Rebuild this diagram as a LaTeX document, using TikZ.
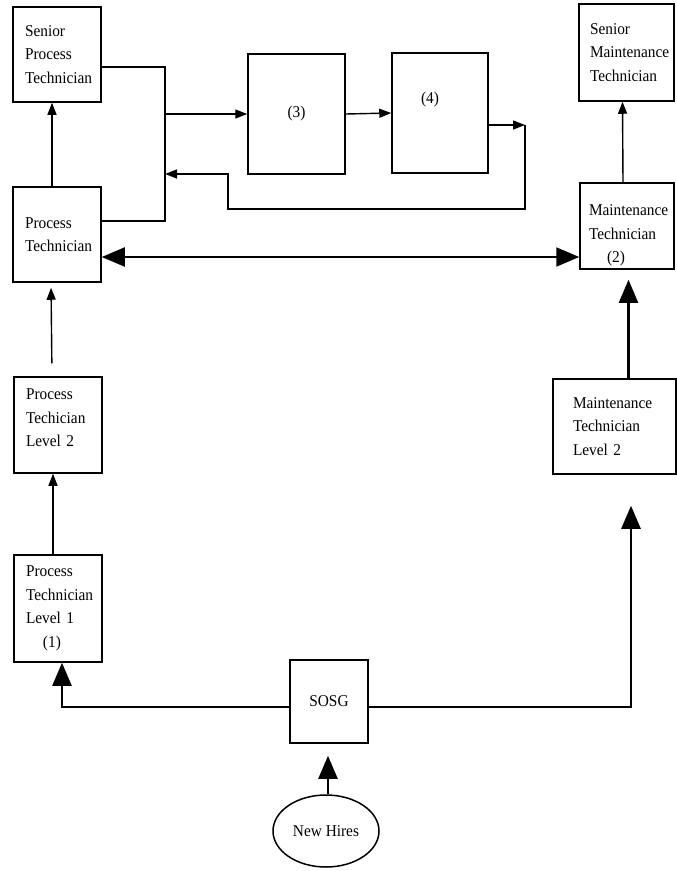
\documentclass[tikz,border=0pt]{standalone}
\usepackage{fontspec}
\setmainfont{Liberation Serif}[FakeStretch=0.93]
\usetikzlibrary{arrows.meta,shapes.geometric,calc}
\begin{document}
\begin{tikzpicture}[x=1pt,y=-1pt,
  box/.style={draw,line width=1.5pt,inner sep=0pt,align=left,font=\fontsize{16.5}{23.5}\selectfont},
  thinarr/.style={line width=1.4pt,-{Triangle[length=12pt,width=9pt]}},
  bigarr/.style={line width=2.2pt,-{Triangle[length=23pt,width=19pt]}},
  bigboth/.style={line width=2pt,{Triangle[length=23pt,width=19pt]}-{Triangle[length=23pt,width=19pt]}},
  wire/.style={line width=1.4pt}]
\useasboundingbox (0,0) rectangle (677,871);
% boxes
\node[box,minimum width=88pt,minimum height=95pt,text width=64pt] (SPT) at (57,54.5) {Senior\\Process\\Technician};
\node[box,minimum width=88pt,minimum height=95pt,text width=64pt] (PT) at (57,234.5) {Process\\Technician};
\node[box,minimum width=88pt,minimum height=96pt,text width=64pt] (PTL2) at (58,425) {Process\\Techician\\Level 2\rule[-14pt]{0pt}{0pt}};
\node[box,minimum width=88pt,minimum height=107pt,text width=64pt] (PTL1) at (58,608.5) {Process\\Technician\\Level 1\\\hspace*{17pt}(1)};
\node[box,minimum width=97pt,minimum height=120pt] (B3) at (296.5,114) {(3)};
\node[box,minimum width=96pt,minimum height=120pt,label={[font=\fontsize{16.5}{18}\selectfont,xshift=-10pt,yshift=13pt]center:(4)}] (B4) at (440,113) {};
\node[box,minimum width=95pt,minimum height=97pt,text width=73pt] (SMT) at (626.5,52.5) {Senior\\Maintenance\\Technician};
\node[box,minimum width=94pt,minimum height=86pt,text width=76pt] (MT) at (627,226) {\rule{0pt}{30pt}Maintenance\\Technician\\\hspace*{18pt}(2)};
\node[box,minimum width=123pt,minimum height=95pt,text width=83pt] (MTL2) at (614.5,426.5) {Maintenance\\Technician\\Level 2};
\node[box,minimum width=78pt,minimum height=83pt] (SOSG) at (329,701.5) {SOSG};
\node[box,ellipse,minimum width=106pt,minimum height=72pt] (NH) at (326,831) {New Hires};
% coordinates
\coordinate (b1) at (165,67);
\coordinate (b2) at (165,221);
\coordinate (b3) at (165,114);
\coordinate (f1) at (525,125);
\coordinate (f2) at (525,209);
\coordinate (f3) at (228,209);
\coordinate (f4) at (228,174);
\coordinate (f5) at (165,174);
\coordinate (d) at (0,257);
\coordinate (s1) at (62,707);
\coordinate (s2) at (631,707);
% left column
\draw[thinarr] ([xshift=-5pt]PT.north) -- ([xshift=-5pt]SPT.south);
\draw[thinarr,shorten <=13pt,shorten >=5pt] ([xshift=-6pt]PTL2.north) -- ([xshift=-6pt]PT.south);
\draw[thinarr] ([xshift=-5pt]PTL1.north) -- ([xshift=-5pt]PTL2.south);
% bracket and process loop
\draw[wire] (SPT.east |- b1) -- (b1) -- (b2) -- (PT.east |- b2);
\draw[thinarr] (b3) -- (B3.west);
\draw[thinarr] (B3.east) -- (B4.west);
\draw[thinarr] (B4.east |- f1) -- (f1);
\draw[thinarr] (f1) -- (f2) -- (f3) -- (f4) -- (f5);
% double arrow
\draw[bigboth] (PT.east |- d) -- (MT.west |- d);
% right column
\draw[thinarr] ([xshift=-4pt]MT.north) -- ([xshift=-4pt]SMT.south);
\draw[bigarr,shorten >=10pt] ([xshift=14pt]MTL2.north) -- ([xshift=14pt]MTL2.north |- MT.south);
% SOSG
\draw[bigarr] (SOSG.west |- s1) -- (s1) -- (PTL1.south -| s1);
\draw[line width=2.6pt,-{Triangle[length=23pt,width=19pt]},shorten >=31pt] (SOSG.east |- s2) -- (s2) -- (MTL2.south -| s2);
\draw[bigarr,shorten >=12pt] ([xshift=2pt]NH.north) -- ([xshift=2pt]NH.north |- SOSG.south);
\end{tikzpicture}
\end{document}
